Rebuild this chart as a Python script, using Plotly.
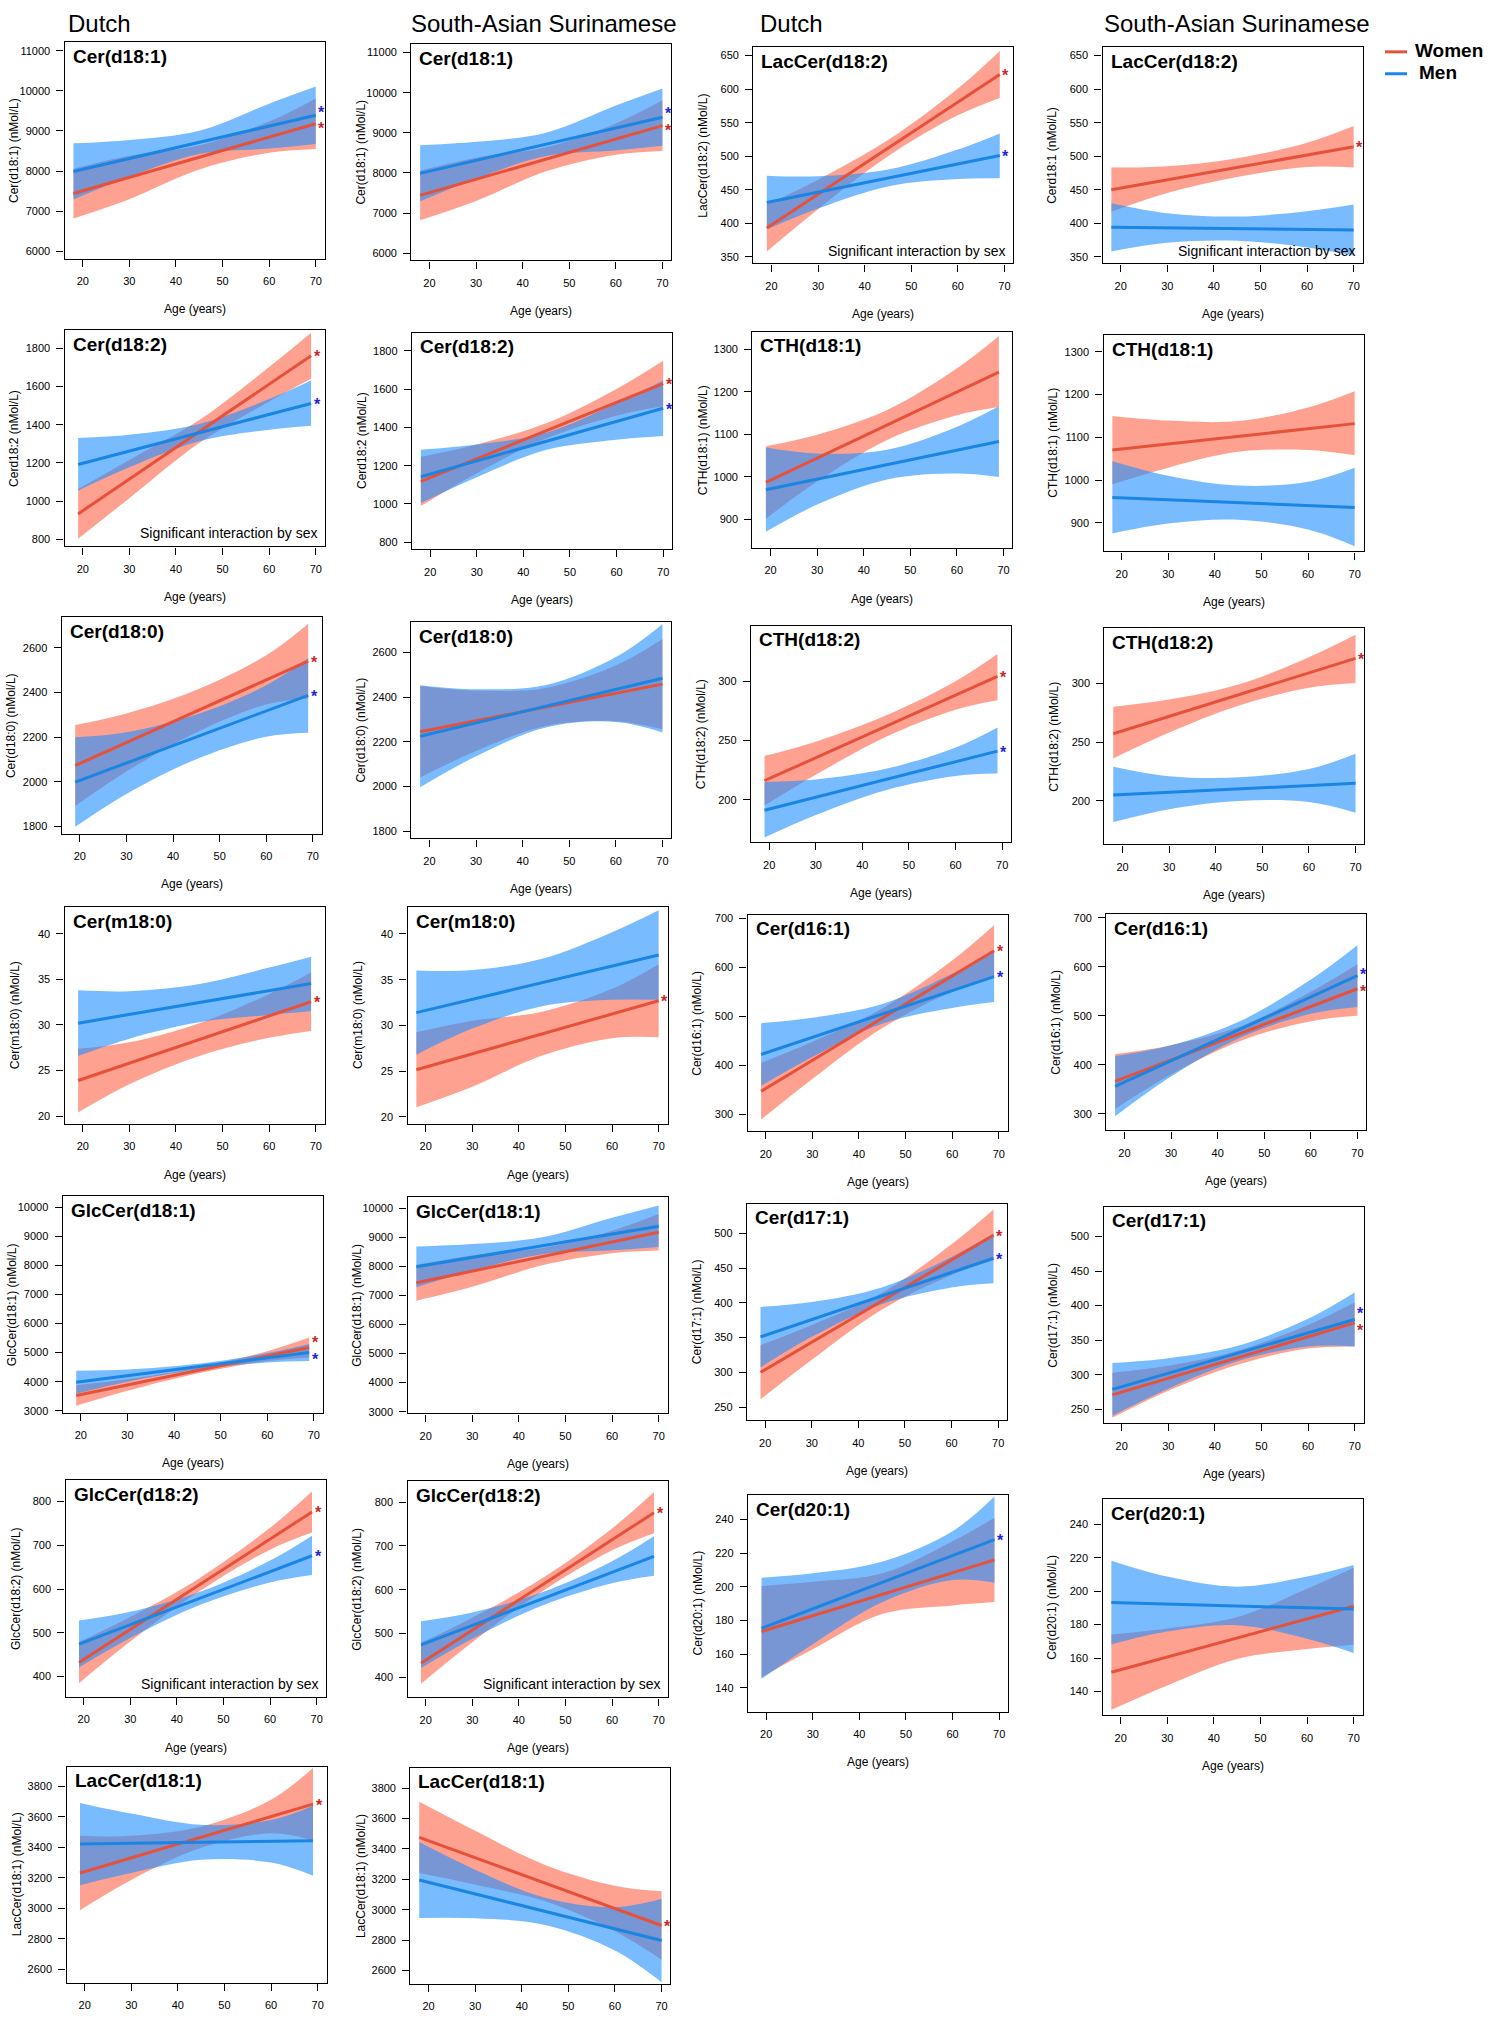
import plotly.graph_objects as go

BAND_AGES = [30, 45, 60]
AGE_TICKS = [20, 30, 40, 50, 60, 70]

# per sex: [fit at first / last age], [lower CI], [upper CI]  (lower/upper at first age, 30, 45, 60, last age)
cer181_w = [[7440, 9180], [6820, 7300, 8040, 8455, 8550], [8060, 8380, 8640, 9235, 9810]]
cer181_m = [[7990, 9390], [7290, 7855, 8425, 8560, 8675], [8690, 8775, 9005, 9680, 10105]]
cer182_nl_w = [[934, 1760], [804, 1016, 1304, 1521, 1640], [1064, 1216, 1424, 1701, 1880]]
cer182_nl_m = [[1192, 1511], [1055, 1177, 1313, 1374, 1395], [1330, 1347, 1403, 1534, 1631]]
cer182_sas_w = [[1118, 1629], [989, 1161, 1343, 1461, 1510], [1247, 1311, 1423, 1601, 1748]]
cer182_sas_m = [[1142, 1500], [1005, 1140, 1283, 1336, 1355], [1283, 1310, 1373, 1526, 1645]]
lac182_nl_w = [[393, 622], [358, 421, 500, 561, 587], [428, 465, 524, 601, 657]]
lac182_nl_m = [[431, 501], [391, 422, 455, 466, 467], [471, 470, 480, 510, 534]]
lac182_sas_w = [[450, 514], [417, 445, 469, 484, 483], [483, 485, 497, 520, 545]]
lac182_sas_m = [[394, 390], [358, 371, 374, 364, 352], [430, 415, 410, 418, 428]]
cth181_nl_w = [[987, 1246], [902, 989, 1087, 1145, 1164], [1072, 1099, 1157, 1255, 1331]]
cth181_nl_m = [[970, 1083], [871, 935, 994, 1008, 1000], [1069, 1055, 1064, 1118, 1166]]
cth181_sas_w = [[1070, 1132], [990, 1029, 1066, 1070, 1058], [1150, 1139, 1138, 1170, 1208]]
cth181_sas_m = [[959, 936], [875, 898, 907, 884, 845], [1044, 1010, 987, 996, 1029]]
cer180_nl_w = [[2073, 2540], [1892, 2046, 2221, 2346, 2373], [2254, 2306, 2411, 2566, 2707]]
cer180_nl_m = [[1999, 2387], [1799, 1946, 2101, 2202, 2220], [2199, 2222, 2301, 2432, 2554]]
cer180_sas_w = [[2245, 2458], [2040, 2159, 2271, 2292, 2256], [2450, 2429, 2441, 2542, 2660]]
cer180_sas_m = [[2225, 2484], [1997, 2135, 2264, 2289, 2242], [2453, 2435, 2454, 2579, 2726]]
cth182_nl_w = [[216, 304], [195, 221, 253, 276, 284], [237, 249, 271, 300, 323]]
cth182_nl_m = [[191, 241], [168, 187, 208, 220, 222], [215, 217, 226, 244, 261]]
cth182_sas_w = [[257, 321], [236, 258, 281, 296, 300], [280, 286, 299, 322, 341]]
cth182_sas_m = [[205, 215], [182, 193, 200, 199, 190], [229, 221, 220, 227, 240]]
cerm180_nl_w = [[23.9, 32.55], [20.4, 23.5, 26.6, 28.6, 29.35], [27.4, 28.1, 30.2, 33.4, 35.75]]
cerm180_nl_m = [[30.2, 34.55], [26.6, 28.5, 30.3, 31.1, 31.5], [33.8, 33.7, 34.5, 36.3, 37.5]]
cerm180_sas_w = [[25.15, 32.7], [21.05, 23.3, 26.7, 28.6, 28.7], [29.25, 30.5, 31.5, 34.0, 36.7]]
cerm180_sas_m = [[31.4, 37.7], [26.8, 29.65, 32.1, 32.8, 32.8], [36.0, 36.05, 37.3, 40.2, 42.6]]
cer161_nl_w = [[347, 634], [289, 372, 476, 550, 581], [405, 448, 516, 614, 686]]
cer161_nl_m = [[422, 581], [358, 417, 485, 517, 529], [486, 497, 525, 587, 633]]
cer161_sas_w = [[366, 555], [310, 380, 449, 489, 500], [422, 440, 479, 549, 605]]
cer161_sas_m = [[356, 582], [295, 376, 456, 504, 518], [418, 440, 490, 574, 644]]
glc181_nl_w = [[3522, 5178], [3170, 3686, 4283, 4710, 4836], [3880, 4086, 4483, 5050, 5520]]
glc181_nl_m = [[3982, 5007], [3588, 3997, 4415, 4663, 4710], [4376, 4417, 4615, 4983, 5300]]
cer171_nl_w = [[300, 497], [261, 318, 390, 440, 461], [339, 368, 414, 484, 534]]
cer171_nl_m = [[351, 464], [307, 351, 398, 422, 428], [394, 401, 422, 466, 500]]
cer171_sas_w = [[271, 375], [238, 277, 315, 338, 341], [303, 313, 335, 372, 405]]
cer171_sas_m = [[279, 380], [241, 280, 320, 341, 341], [317, 324, 342, 381, 419]]
glc182_w = [[432, 776], [385, 480, 596, 690, 729], [479, 536, 626, 740, 823]]
glc182_m = [[474, 676], [421, 488, 564, 615, 632], [528, 548, 594, 665, 722]]
cer201_nl_w = [[173.5, 216], [146.5, 163, 184, 189, 191], [200.5, 203, 208, 227, 241]]
cer201_nl_m = [[175.4, 228], [145.4, 166, 191, 204, 202.4], [205.4, 208, 215, 233, 253.6]]
cer201_sas_w = [[151.6, 191], [129.1, 143.7, 159.5, 165.4, 168], [174.1, 177.7, 184.5, 201.4, 214]]
cer201_sas_m = [[193.2, 189.3], [168.2, 175.9, 179.7, 171.5, 163], [218.2, 208.7, 202.7, 208.7, 215.6]]
lac181_nl_w = [[3232, 3684], [2987, 3186, 3397, 3493, 3446], [3477, 3476, 3537, 3713, 3922]]
lac181_nl_m = [[3422, 3444], [3152, 3232, 3318, 3300, 3214], [3692, 3622, 3548, 3580, 3674]]
lac181_sas_w = [[3476, 2896], [3241, 3164, 3055, 2858, 2671], [3711, 3520, 3295, 3158, 3121]]
lac181_sas_m = [[3196, 2797], [2946, 2944, 2899, 2731, 2522], [3446, 3264, 3079, 3017, 3072]]

# y tick labels
ticks_cer181 = [6000, 7000, 8000, 9000, 10000, 11000]
ticks_cer182 = [800, 1000, 1200, 1400, 1600, 1800]
ticks_lac182 = [350, 400, 450, 500, 550, 600, 650]
ticks_cth181 = [900, 1000, 1100, 1200, 1300]
ticks_cer180 = [1800, 2000, 2200, 2400, 2600]
ticks_cth182 = [200, 250, 300]
ticks_cerm180 = [20, 25, 30, 35, 40]
ticks_cer161 = [300, 400, 500, 600, 700]
ticks_glc181 = [3000, 4000, 5000, 6000, 7000, 8000, 9000, 10000]
ticks_cer171 = [250, 300, 350, 400, 450, 500]
ticks_glc182 = [400, 500, 600, 700, 800]
ticks_cer201 = [140, 160, 180, 200, 220, 240]
ticks_lac181 = [2600, 2800, 3000, 3200, 3400, 3600, 3800]

U = " (nMol/L)"
# title, y label, (first, last age), y ticks, y range, women, men, asterisks, interaction note, box (left, top) px
panels = [
    ("Cer(d18:1)", "Cer(d18:1)" + U, (18, 70), ticks_cer181, (5820, 11210), cer181_w, cer181_m, "wm", False, (64.6, 39.4)),
    ("Cer(d18:1)", "Cer(d18:1)" + U, (18, 70), ticks_cer181, (5820, 11210), cer181_w, cer181_m, "wm", False, (411.3, 41.3)),
    ("LacCer(d18:2)", "LacCer(d18:2)" + U, (19, 69), ticks_lac182, (340, 662.5), lac182_nl_w, lac182_nl_m, "wm", True, (753.3, 44.4)),
    ("LacCer(d18:2)", "Cerd18:1" + U, (18, 70), ticks_lac182, (340, 662.5), lac182_sas_w, lac182_sas_m, "w", True, (1102.5, 44.4)),
    ("Cer(d18:2)", "Cerd18:2" + U, (19, 69), ticks_cer182, (764, 1894), cer182_nl_w, cer182_nl_m, "wm", True, (64.6, 328.3)),
    ("Cer(d18:2)", "Cerd18:2" + U, (18, 70), ticks_cer182, (764, 1894), cer182_sas_w, cer182_sas_m, "wm", False, (412.0, 331.0)),
    ("CTH(d18:1)", "CTH(d18:1)" + U, (19, 69), ticks_cth181, (833, 1341), cth181_nl_w, cth181_nl_m, "", False, (752.4, 329.9)),
    ("CTH(d18:1)", "CTH(d18:1)" + U, (18, 70), ticks_cth181, (833, 1339), cth181_sas_w, cth181_sas_m, "", False, (1103.5, 333.3)),
    ("Cer(d18:0)", "Cer(d18:0)" + U, (19, 69), ticks_cer180, (1769, 2736), cer180_nl_w, cer180_nl_m, "wm", False, (61.7, 616.4)),
    ("Cer(d18:0)", "Cer(d18:0)" + U, (18, 70), ticks_cer180, (1768, 2735), cer180_sas_w, cer180_sas_m, "", False, (411.3, 621.3)),
    ("CTH(d18:2)", "CTH(d18:2)" + U, (19, 69), ticks_cth182, (164, 346.6), cth182_nl_w, cth182_nl_m, "wm", False, (751.0, 625.2)),
    ("CTH(d18:2)", "CTH(d18:2)" + U, (18, 70), ticks_cth182, (163, 346.6), cth182_sas_w, cth182_sas_m, "w", False, (1104.4, 627.4)),
    ("Cer(m18:0)", "Cer(m18:0)" + U, (19, 69), ticks_cerm180, (19.16, 42.9), cerm180_nl_w, cerm180_nl_m, "w", False, (64.6, 907.6)),
    ("Cer(m18:0)", "Cer(m18:0)" + U, (18, 70), ticks_cerm180, (19.25, 42.9), cerm180_sas_w, cerm180_sas_m, "w", False, (407.5, 907.6)),
    ("Cer(d16:1)", "Cer(d16:1)" + U, (19, 69), ticks_cer161, (265, 707), cer161_nl_w, cer161_nl_m, "wm", False, (747.6, 915.2)),
    ("Cer(d16:1)", "Cer(d16:1)" + U, (18, 70), ticks_cer161, (266, 707), cer161_sas_w, cer161_sas_m, "wm", False, (1106.3, 914.4)),
    ("GlcCer(d18:1)", "GlcCer(d18:1)" + U, (19, 69), ticks_glc181, (2934, 10381), glc181_nl_w, glc181_nl_m, "wm", False, (62.7, 1197.5)),
    ("GlcCer(d18:1)", "GlcCer(d18:1)" + U, (18, 70), ticks_glc181, (2940, 10390), cer181_w, cer181_m, "", False, (407.5, 1198.3)),
    ("Cer(d17:1)", "Cer(d17:1)" + U, (19, 69), ticks_cer171, (231, 542), cer171_nl_w, cer171_nl_m, "wm", False, (747.0, 1205.2)),
    ("Cer(d17:1)", "Cer(d17:1)" + U, (18, 70), ticks_cer171, (230, 542.5), cer171_sas_w, cer171_sas_m, "wm", False, (1103.5, 1208.2)),
    ("GlcCer(d18:2)", "GlcCer(d18:2)" + U, (19, 69), ticks_glc182, (354, 848), glc182_w, glc182_m, "wm", True, (65.5, 1482.6)),
    ("GlcCer(d18:2)", "GlcCer(d18:2)" + U, (19, 69), ticks_glc182, (354, 848), glc182_w, glc182_m, "w", True, (407.5, 1483.3)),
    ("Cer(d20:1)", "Cer(d20:1)" + U, (19, 69), ticks_cer201, (126, 254.3), cer201_nl_w, cer201_nl_m, "m", False, (748.0, 1497.5)),
    ("Cer(d20:1)", "Cer(d20:1)" + U, (18, 70), ticks_cer201, (125.8, 255), cer201_sas_w, cer201_sas_m, "", False, (1102.5, 1501.3)),
    ("LacCer(d18:1)", "LacCer(d18:1)" + U, (19, 69), ticks_lac181, (2510, 3931), lac181_nl_w, lac181_nl_m, "w", False, (66.5, 1769.7)),
    ("LacCer(d18:1)", "LacCer(d18:1)" + U, (18, 70), ticks_lac181, (2512, 3936), lac181_sas_w, lac181_sas_m, "w", False, (410.4, 1770.7)),
]

headers = [("Dutch", 65.5), ("South-Asian Surinamese", 409), ("Dutch", 758), ("South-Asian Surinamese", 1101.6)]

W, H = 1500, 2024
BW, BH = 260, 217
FONT = "Liberation Sans, Arial, sans-serif"
RED_BAND, BLUE_BAND = "rgba(255,99,71,0.6)", "rgba(30,144,255,0.6)"
RED_LINE, BLUE_LINE = "#e6513b", "#1a85e2"
RED_STAR, BLUE_STAR = "#c8282a", "#2424d8"
STAR_SIZE = 16
STAR_GAP = 17  # px kept between two asterisks on one panel

fig = go.Figure()
layout = {}
annotations = []

for i, (title, ylab, (a0, a1), yt, yr, women, men, stars, note, (left, top)) in enumerate(panels, start=1):
    sfx = "" if i == 1 else str(i)
    xa, ya = "x" + sfx, "y" + sfx
    band_x = [a0] + BAND_AGES + [a1]

    for (fit, lo, hi), fill in ((women, RED_BAND), (men, BLUE_BAND)):
        fig.add_trace(go.Scatter(x=band_x, y=lo, xaxis=xa, yaxis=ya, mode="lines",
                                 line=dict(width=0, shape="spline"), hoverinfo="skip", showlegend=False))
        fig.add_trace(go.Scatter(x=band_x, y=hi, xaxis=xa, yaxis=ya, mode="lines", fill="tonexty",
                                 fillcolor=fill, line=dict(width=0, shape="spline"),
                                 hoverinfo="skip", showlegend=False))
    for (fit, lo, hi), col in ((women, RED_LINE), (men, BLUE_LINE)):
        fig.add_trace(go.Scatter(x=[a0, a1], y=fit, xaxis=xa, yaxis=ya, mode="lines",
                                 line=dict(color=col, width=3), showlegend=False))

    layout["xaxis" + sfx] = dict(domain=[left / W, (left + BW) / W], anchor=ya, range=[16.1, 71.9],
                                 tickvals=AGE_TICKS, ticks="outside", ticklen=7, tickwidth=1.2, tickcolor="black",
                                 showline=True, mirror=True, linecolor="black", linewidth=1.4,
                                 showgrid=False, zeroline=False, ticklabelstandoff=5,
                                 tickfont=dict(family=FONT, size=11, color="black"))
    layout["yaxis" + sfx] = dict(domain=[1 - (top + BH) / H, 1 - top / H], anchor=xa, range=list(yr),
                                 tickvals=yt, ticktext=[str(v) for v in yt],
                                 ticks="outside", ticklen=7, tickwidth=1.2, tickcolor="black",
                                 showline=True, mirror=True, linecolor="black", linewidth=1.4,
                                 showgrid=False, zeroline=False, ticklabelstandoff=4,
                                 tickfont=dict(family=FONT, size=11, color="black"))

    annotations.append(dict(text="<b>%s</b>" % title, x=(left + 6) / W, y=1 - (top + 14) / H,
                            xref="paper", yref="paper", xanchor="left", yanchor="middle", showarrow=False,
                            font=dict(family=FONT, size=19, color="black")))
    annotations.append(dict(text=ylab, x=(left - 50) / W, y=1 - (top + BH / 2) / H, textangle=-90,
                            xref="paper", yref="paper", xanchor="center", yanchor="middle", showarrow=False,
                            font=dict(family=FONT, size=12, color="black")))
    if top + BH + 60 < H:
        annotations.append(dict(text="Age (years)", x=(left + BW / 2) / W, y=1 - (top + BH + 51) / H,
                                xref="paper", yref="paper", xanchor="center", yanchor="middle", showarrow=False,
                                font=dict(family=FONT, size=12, color="black")))
    if note:
        annotations.append(dict(text="Significant interaction by sex", x=(left + BW - 6) / W,
                                y=1 - (top + BH - 13) / H, xref="paper", yref="paper",
                                xanchor="right", yanchor="middle", showarrow=False,
                                font=dict(family=FONT, size=14, color="black")))

    # asterisks at the end of the fitted lines, pushed apart when they would touch
    px_per_unit = BH / (yr[1] - yr[0])
    shift = {"w": 0.0, "m": 0.0}
    if "w" in stars and "m" in stars:
        d = (women[0][1] - men[0][1]) * px_per_unit
        if abs(d) < STAR_GAP:
            sgn = 1 if d >= 0 else -1
            need = (STAR_GAP - abs(d)) / 2
            shift["w"], shift["m"] = sgn * need, -sgn * need
    for key, (fit, lo, hi), col in (("w", women, RED_STAR), ("m", men, BLUE_STAR)):
        if key in stars:
            annotations.append(dict(text="<b>*</b>", x=a1 + 1.3, y=fit[1], xref=xa, yref=ya,
                                    yshift=shift[key] - 1, xanchor="center", yanchor="middle", showarrow=False,
                                    font=dict(family=FONT, size=STAR_SIZE, color=col)))

for text, x in headers:
    annotations.append(dict(text=text, x=x / W, y=1 - 21 / H, xref="paper", yref="paper",
                            xanchor="left", yanchor="middle", showarrow=False,
                            font=dict(family=FONT, size=24, color="black")))

# legend drawn by hand, like the R legend without frame
shapes = []
for label, col, ly, lx in (("Women", RED_LINE, 48, 1413), ("Men", BLUE_LINE, 70, 1417)):
    shapes.append(dict(type="line", xref="paper", yref="paper", x0=1385 / W, x1=1407 / W,
                       y0=1 - (ly + 1) / H, y1=1 - (ly + 1) / H, line=dict(color=col, width=3)))
    annotations.append(dict(text="<b>%s</b>" % label, x=lx / W, y=1 - ly / H, xref="paper", yref="paper",
                            xanchor="left", yanchor="middle", showarrow=False,
                            font=dict(family=FONT, size=19, color="black")))

fig.update_layout(**layout)
fig.update_layout(width=W, height=H, margin=dict(l=0, r=0, t=0, b=0),
                  paper_bgcolor="white", plot_bgcolor="white", showlegend=False,
                  annotations=annotations, shapes=shapes, font=dict(family=FONT))
# page body margin would shift the whole figure by 8px
fig.write_html("out.html", config={"displayModeBar": False},
               post_script="document.body.style.margin = '0';")
